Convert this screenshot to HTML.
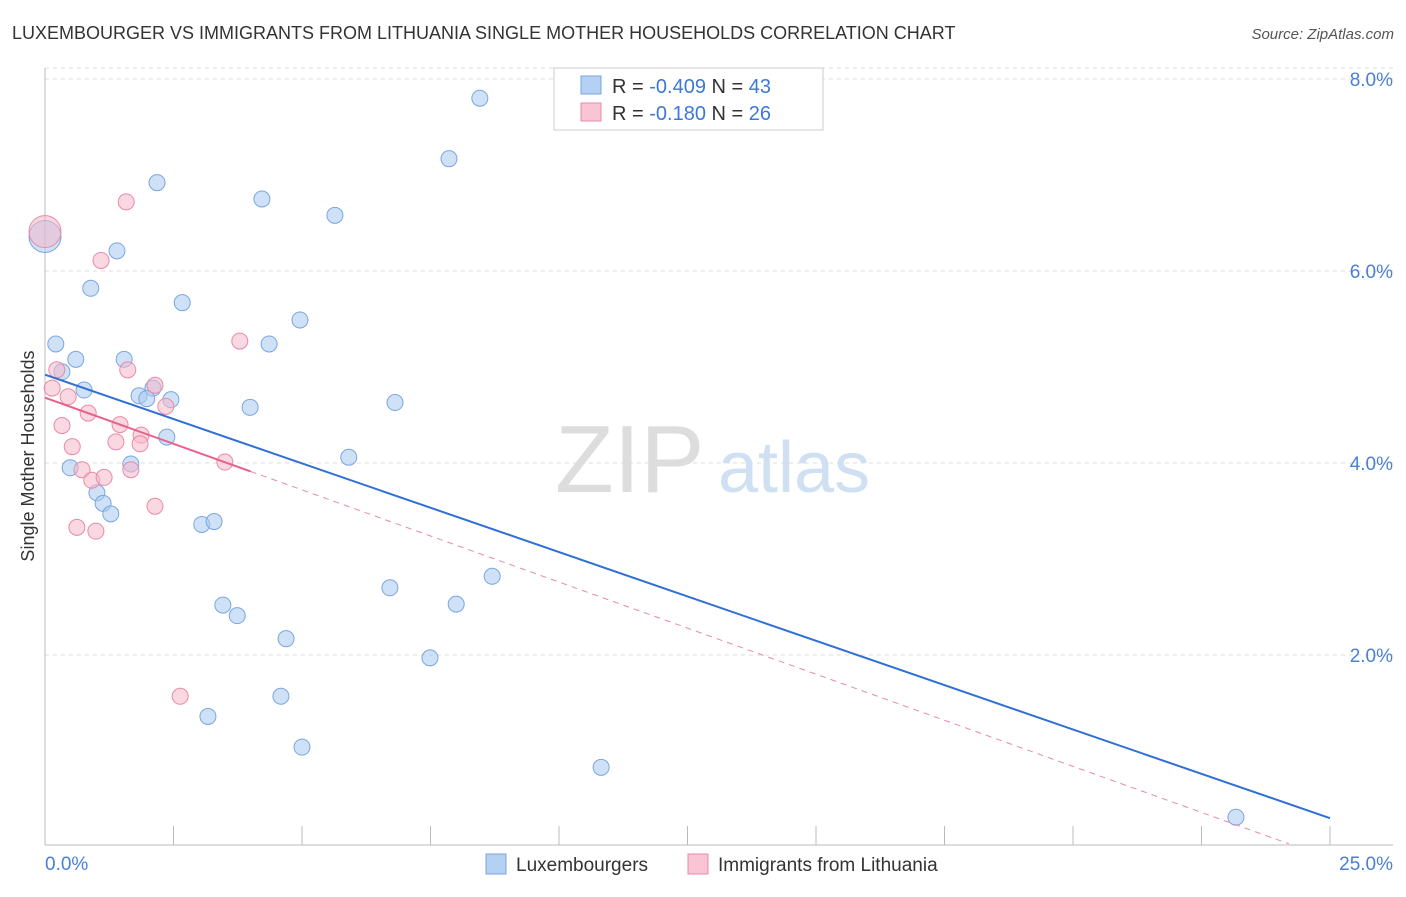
<!DOCTYPE html>
<html><head><meta charset="utf-8"><style>
body{margin:0;background:#fff;font-family:"Liberation Sans",sans-serif;}
svg text{font-family:"Liberation Sans",sans-serif;}
</style></head><body>
<svg id="chart" width="1406" height="892" viewBox="0 0 1406 892">
<text x="12" y="39" font-size="18" fill="#333">LUXEMBOURGER VS IMMIGRANTS FROM LITHUANIA SINGLE MOTHER HOUSEHOLDS CORRELATION CHART</text>
<text x="1394" y="39" font-size="15" fill="#555" font-style="italic" text-anchor="end">Source: ZipAtlas.com</text>
<g id="grid"></g>
<g><text x="555" y="492" font-size="96" font-family="Liberation Serif" fill="#ddd">ZIP</text><text x="718" y="492" font-size="72" fill="#cfe0f3">atlas</text></g>
<g id="axes"></g>
<g id="marks"></g>
<text transform="translate(34,456) rotate(-90)" font-size="18" fill="#333" text-anchor="middle">Single Mother Households</text>
<g>
<rect x="554" y="68" width="269" height="62" fill="#fff" stroke="#ccc"/>
<rect x="581" y="76" width="20" height="18" fill="#b4d0f2" stroke="#7aa6e0"/>
<rect x="581" y="103" width="20" height="18" fill="#f9c4d4" stroke="#e88aa8"/>
<text x="612" y="93" font-size="20" fill="#333">R = <tspan fill="#3b78d8">-0.409</tspan>   N = <tspan fill="#3b78d8">43</tspan></text>
<text x="612" y="120" font-size="20" fill="#333">R =  <tspan fill="#3b78d8">-0.180</tspan>   N = <tspan fill="#3b78d8">26</tspan></text>
</g>
<g>
<rect x="486" y="854" width="20" height="20" fill="#b4d0f2" stroke="#7aa6e0"/>
<text x="516" y="871" font-size="19" fill="#333">Luxembourgers</text>
<rect x="688" y="854" width="20" height="20" fill="#f9c4d4" stroke="#e88aa8"/>
<text x="718" y="871" font-size="19" fill="#333">Immigrants from Lithuania</text>
</g>
</svg>
<script>
const blueX=[8.46,7.86,2.18,4.22,5.64,1.40,0.89,2.67,4.96,0.21,4.36,0.60,1.54,0.33,0.76,2.10,1.83,1.98,2.45,3.99,6.81,2.37,5.91,1.67,0.49,1.01,1.13,1.28,3.05,3.29,6.71,8.70,3.46,8.00,3.74,4.69,7.49,4.59,3.17,5.00,10.82,23.17,0.0];
const blueY=[7.80,7.17,6.92,6.75,6.58,6.21,5.82,5.67,5.49,5.24,5.24,5.08,5.08,4.95,4.76,4.78,4.70,4.67,4.66,4.58,4.63,4.27,4.06,3.99,3.95,3.69,3.58,3.47,3.36,3.39,2.70,2.82,2.52,2.53,2.41,2.17,1.97,1.57,1.36,1.04,0.83,0.31,6.36];
const pinkX=[0,1.58,1.09,3.79,0.23,1.61,2.14,0.14,0.45,2.35,0.84,1.46,0.33,1.87,1.38,1.85,0.53,3.50,0.72,1.67,0.91,1.15,2.14,0.62,0.99,2.63];
const pinkY=[6.41,6.72,6.11,5.27,4.97,4.97,4.81,4.78,4.69,4.59,4.52,4.40,4.39,4.29,4.22,4.20,4.17,4.01,3.93,3.93,3.82,3.85,3.55,3.33,3.29,1.57];
const yTicks=[2,4,6,8];
const yTickLabels=["2.0%","4.0%","6.0%","8.0%"];
const blueTrend=[4.92,0.30]; // value at x=0 and x=25
const pinkTrend=[4.68,-0.12];
const pinkSolidEnd=4.0;
const NS="http://www.w3.org/2000/svg";
const X=v=>45+v*51.4, Y=v=>463-(v-4)*96;
function el(t,a,p){const e=document.createElementNS(NS,t);for(const k in a)e.setAttribute(k,a[k]);p.appendChild(e);return e;}
const grid=document.getElementById('grid'),axes=document.getElementById('axes'),marks=document.getElementById('marks');
yTicks.forEach((t,i)=>{
 const l=el('line',{x1:45,x2:1393,y1:Y(t),y2:Y(t),stroke:'#ddd','stroke-dasharray':'4,4'},grid);
 
 
 const tx=el('text',{x:1393,y:Y(t)+7,'font-size':19,fill:'#4a7fd4','text-anchor':'end'},axes);
 tx.textContent=yTickLabels[i];
 
 
});
el('line',{x1:45,x2:1393,y1:Y(8)-11,y2:Y(8)-11,stroke:'#ddd','stroke-dasharray':'4,4'},grid);
el('line',{x1:45,x2:45,y1:68,y2:845,stroke:'#bbb'},axes);
el('line',{x1:45,x2:1393,y1:845,y2:845,stroke:'#bbb'},axes);
for(let i=0;i<=10;i++){const t=el('line',{x1:X(i*2.5),x2:X(i*2.5),y1:826,y2:845,stroke:'#bbb'},axes);
 
 }
let t0=el('text',{x:45,y:870,'font-size':19,fill:'#4a7fd4'},axes);t0.textContent='0.0%';


let t1=el('text',{x:1393,y:870,'font-size':19,fill:'#4a7fd4','text-anchor':'end'},axes);t1.textContent='25.0%';


function pts(xs,ys,fill,stroke,name){xs.forEach((x,i)=>{const big=(x===0&&ys[i]>6);
 const c=el('circle',{cx:X(x),cy:Y(ys[i]),r:big?16:8,fill:fill,'fill-opacity':0.55,stroke:stroke,'stroke-width':1},marks);
 
 });}
pts(blueX,blueY,'#a8c8f0','#7aa6e0','luxembourger-point');
pts(pinkX,pinkY,'#f6b8cb','#e88aa8','lithuania-point');
const pv=x=>pinkTrend[0]+(pinkTrend[1]-pinkTrend[0])*x/25;
let pd=el('line',{x1:X(pinkSolidEnd),y1:Y(pv(pinkSolidEnd)),x2:X(24.2),y2:Y(pv(24.2)),stroke:'#e88aa8','stroke-dasharray':'6,5','stroke-width':1},marks);


let ps=el('line',{x1:X(0),y1:Y(pv(0)),x2:X(pinkSolidEnd),y2:Y(pv(pinkSolidEnd)),stroke:'#e8608a','stroke-width':2},marks);


let bl=el('line',{x1:X(0),y1:Y(blueTrend[0]),x2:X(25),y2:Y(blueTrend[1]),stroke:'#2f6fd6','stroke-width':2},marks);


</script>
</body></html>
